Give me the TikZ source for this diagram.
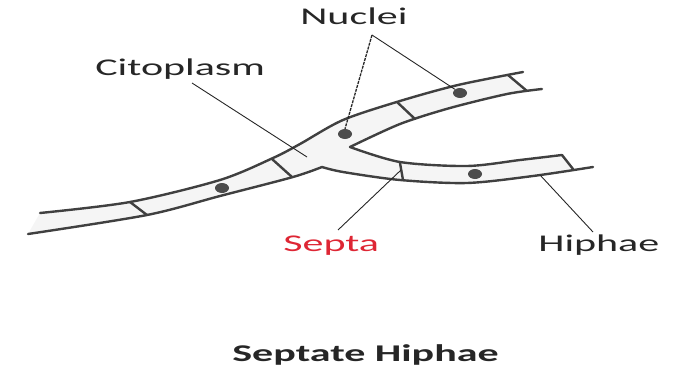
\documentclass[tikz,border=0pt]{standalone}
\usepackage{fontspec}
\setmainfont{Carlito}
\usetikzlibrary{shapes.geometric}
\definecolor{septared}{RGB}{222,38,52}

\begin{document}
\begin{tikzpicture}[x=1pt,y=-1pt,
    wall/.style={line width=2.4pt, black!75, line cap=round, line join=round},
    pointer/.style={line width=0.9pt, black!85},
    nucleus/.style={ellipse, fill=black!70, minimum width=14pt, minimum height=10pt, inner sep=0},
    partname/.style={font=\fontsize{24}{28}\selectfont, text=black!85, inner sep=0, anchor=base west, xscale=1.75}]
                \useasboundingbox (0,0) rectangle (682,369);

                % Cell interior
                \fill[black!4] plot[smooth] coordinates {(40,213) (130,202) (220,180) (273,158) (300,144) (343,120) (400,101) (458,85) (508,75)}
                    -- plot[smooth] coordinates {(527,91) (450,108) (400,124) (350,147)}
                    -- plot[smooth] coordinates {(350,147) (400,162) (467,166) (520,160) (562,155)}
                    -- plot[smooth] coordinates {(573,169) (533,176) (467,183) (400,180) (343,172) (322,167)}
                    -- plot[smooth] coordinates {(322,167) (293,177) (220,196) (147,215) (28,234)} -- cycle;

                % Draw hypha walls
                \draw[wall] plot[smooth] coordinates {(40,213) (130,202) (220,180) (273,158) (300,144) (343,120) (400,101) (458,85) (523,72)};
                \draw[wall] plot[smooth] coordinates {(28,234) (147,215) (220,196) (293,177) (322,167)};
                \draw[wall] plot[smooth] coordinates {(322,167) (343,172) (400,180) (467,183) (533,176) (593,167)};
                \draw[wall] plot[smooth] coordinates {(350,147) (400,124) (450,108) (507,94) (542,89)};
                \draw[wall] plot[smooth] coordinates {(350,147) (400,162) (467,166) (520,160) (562,155)};

                % Draw septa
                \foreach \ax/\ay/\bx/\by in {130/202/147/215, 272/159/292/177, 397/102/415/119,
                                              508/75/527/91, 400/163/403/180, 562/155/573/169} {
                    \draw[wall] (\ax,\ay) -- (\bx,\by);
                }

                % Draw nuclei
                \node[nucleus] (n1) at (222,188) {};
                \node[nucleus] (n2) at (345,134) {};
                \node[nucleus] (n3) at (460,93) {};
                \node[nucleus] (n4) at (475,174) {};

                % Labels
                \node[partname] (nuclei) at (300,25) {Nuclei};
                \node[partname] (citoplasm) at (95,75) {Citoplasm};
                \node[partname, text=septared] (septa) at (283,251) {Septa};
                \node[partname] (hiphae) at (538,251) {Hiphae};
                \node[partname, font=\fontsize{24}{28}\selectfont\bfseries] (title) at (232,361) {Septate Hiphae};

                % Pointer lines
                \coordinate (nucleitip) at (372,35);
                \coordinate (citostart) at (192,83);
                \coordinate (citoend) at (307,157);
                \coordinate (septastart) at (338,230);
                \coordinate (septaend) at (401,170);
                \coordinate (hiphaestart) at (593,232);
                \coordinate (hiphaeend) at (540,175);
                \draw[pointer, line width=1.3pt, dash pattern=on 3pt off 1pt] (nucleitip) -- (n2.north);
                \draw[pointer] (nucleitip) -- (n3.north west);
                \draw[pointer] (citostart) -- (citoend);
                \draw[pointer] (septastart) -- (septaend);
                \draw[pointer] (hiphaestart) -- (hiphaeend);
            \end{tikzpicture}
\end{document}
